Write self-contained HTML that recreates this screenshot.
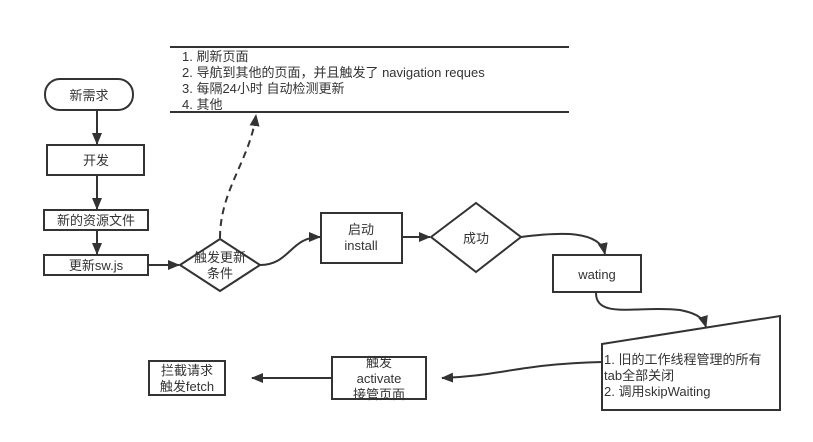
<!DOCTYPE html>
<html><head><meta charset="utf-8"><style>
html,body{margin:0;padding:0;background:#fff;}
svg{display:block;}
text{font-family:"Liberation Sans","Noto Sans CJK SC",sans-serif;font-size:13px;fill:#333;}
</style></head><body>
<svg width="813" height="442" viewBox="0 0 813 442" xmlns="http://www.w3.org/2000/svg">
<defs><marker id="a" markerWidth="12" markerHeight="10" refX="11" refY="5" orient="auto" markerUnits="userSpaceOnUse"><path d="M0,0 L12,5 L0,10 Z" fill="#333"/></marker></defs>
<g stroke="#333" stroke-width="2" fill="none">
<rect x="45" y="79" width="88" height="31" rx="15"/>
<rect x="47" y="145" width="97" height="30"/>
<rect x="44" y="210" width="104" height="20"/>
<rect x="44" y="255" width="104" height="20"/>
<polygon points="180,265 220,239 260,265 220,291" />
<rect x="321" y="213" width="81" height="50"/>
<polygon points="431,237 476,203 521,237 476,272"/>
<rect x="553" y="255" width="88" height="37"/>
<polygon points="602,344 780,316 780,410 602,410"/>
<rect x="332" y="357" width="94" height="42"/>
<rect x="149" y="361" width="76" height="34"/>
<line x1="170" y1="47" x2="569" y2="47"/>
<line x1="170" y1="112" x2="569" y2="112"/>
<line x1="97" y1="111" x2="97" y2="144" marker-end="url(#a)"/>
<line x1="97" y1="176" x2="97" y2="209" marker-end="url(#a)"/>
<line x1="97" y1="231" x2="97" y2="254" marker-end="url(#a)"/>
<line x1="148" y1="265" x2="179" y2="265" marker-end="url(#a)"/>
<path d="M220,238 C220,190 250,160 256,115" stroke-dasharray="7,5" marker-end="url(#a)"/>
<path d="M260,265 C290,265 290,237 320,237" marker-end="url(#a)"/>
<line x1="402" y1="237" x2="430" y2="237" marker-end="url(#a)"/>
<path d="M521,237 C560,232 600,230 605,254" marker-end="url(#a)"/>
<path d="M596,293 C596,320 640,305 680,310 C700,314 704,320 706,327" marker-end="url(#a)"/>
<path d="M602,362 C520,364 500,376 442,378" marker-end="url(#a)"/>
<line x1="332" y1="378" x2="252" y2="378" marker-end="url(#a)"/>
</g>
<text x="89" y="100" text-anchor="middle">新需求</text>
<text x="96" y="165" text-anchor="middle">开发</text>
<text x="96" y="225" text-anchor="middle">新的资源文件</text>
<text x="96" y="270" text-anchor="middle">更新sw.js</text>
<text x="220" y="262" text-anchor="middle">触发更新</text>
<text x="220" y="278" text-anchor="middle">条件</text>
<text x="182" y="61">1. 刷新页面</text>
<text x="182" y="77">2. 导航到其他的页面，并且触发了 navigation reques</text>
<text x="182" y="93">3. 每隔24小时 自动检测更新</text>
<text x="182" y="109">4. 其他</text>
<text x="361" y="234" text-anchor="middle">启动</text>
<text x="361" y="250" text-anchor="middle">install</text>
<text x="476" y="243" text-anchor="middle">成功</text>
<text x="597" y="279" text-anchor="middle">wating</text>
<text x="604" y="364">1. 旧的工作线程管理的所有</text>
<text x="604" y="380">tab全部关闭</text>
<text x="604" y="396">2. 调用skipWaiting</text>
<text x="379" y="367" text-anchor="middle">触发</text>
<text x="379" y="383" text-anchor="middle">activate</text>
<text x="379" y="399" text-anchor="middle">接管页面</text>
<text x="187" y="375" text-anchor="middle">拦截请求</text>
<text x="187" y="391" text-anchor="middle">触发fetch</text>
</svg>
</body></html>
